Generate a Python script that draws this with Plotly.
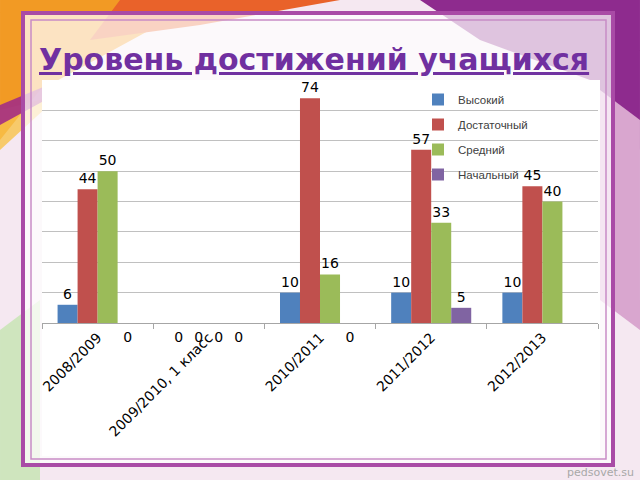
import plotly.graph_objects as go

categories = ["2008/2009", "2009/2010, 1 класс", "2010/2011", "2011/2012", "2012/2013"]
series_names = ["Высокий", "Достаточный", "Средний", "Начальный"]
vysokiy = [6, 0, 10, 10, 10]
dostatochny = [44, 0, 74, 57, 45]
sredniy = [50, 0, 16, 33, 40]
nachalny = [0, 0, 0, 5, None]
series_values = [vysokiy, dostatochny, sredniy, nachalny]
colors = ["#4F81BD", "#C0504D", "#9BBB59", "#8064A2"]
title_text = "Уровень достижений учащихся"

W, H = 640, 480
L, R, T, B = 42, 598, 80, 323


def px(x):
    return (x - L) / (R - L)


def py(y):
    return 1 - (y - T) / (B - T)


def path(points):
    return "M" + " L".join(f"{px(x):.4f},{py(y):.4f}" for x, y in points) + " Z"


fig = go.Figure()

for i, (name, vals, col) in enumerate(zip(series_names, series_values, colors)):
    fig.add_trace(go.Bar(
        name=name, x=categories, y=vals, marker_color=col,
        marker_line_width=0,
        text=[("" if (v is None or v == 0) else str(v)) for v in vals],
        textposition="outside", cliponaxis=False,
        textfont=dict(family="DejaVu Sans", size=14, color="#000000"),
        legendgroup=name, offsetgroup=str(i),
    ))

for i, (name, vals) in enumerate(zip(series_names, series_values)):
    fig.add_trace(go.Scatter(
        x=categories, y=[(0 if v == 0 else None) for v in vals],
        mode="markers+text", text=["0" if v == 0 else "" for v in vals],
        marker=dict(size=12, opacity=0),
        textposition="bottom center", cliponaxis=False,
        textfont=dict(family="DejaVu Sans", size=14, color="#000000"),
        showlegend=False, hoverinfo="skip", offsetgroup=str(i),
    ))


def pshape(**kw):
    d = dict(xref="paper", yref="paper", layer="below")
    d.update(kw)
    return d


shapes = [
    pshape(type="path", path=path([(0, 0), (330, 0), (150, 30), (40, 90), (0, 140)]),
           fillcolor="#F29A24", line=dict(width=0)),
    pshape(type="path", path=path([(120, 0), (340, 0), (200, 25), (90, 40)]),
           fillcolor="#E9622A", line=dict(width=0)),
    pshape(type="path", path=path([(0, 150), (60, 95), (0, 110)]),
           fillcolor="#F7C24A", line=dict(width=0), opacity=0.8),
    pshape(type="path", path=path([(0, 105), (60, 80), (60, 92), (0, 125)]),
           fillcolor="#A32E84", line=dict(width=0), opacity=0.9),
    pshape(type="path", path=path([(420, 0), (640, 0), (640, 150), (590, 80), (480, 40)]),
           fillcolor="#8E2B8E", line=dict(width=0)),
    pshape(type="path", path=path([(600, 90), (640, 120), (640, 330), (600, 300)]),
           fillcolor="#D9A6CF", line=dict(width=0)),
    pshape(type="path", path=path([(0, 330), (40, 300), (40, 480), (0, 480)]),
           fillcolor="#CFE5BE", line=dict(width=0)),
    # frame
    pshape(type="rect", x0=px(23), x1=px(613), y0=py(465), y1=py(13),
           fillcolor="rgba(255,255,255,0.72)", line=dict(color="#A94BA6", width=4)),
    pshape(type="rect", x0=px(31), x1=px(606), y0=py(459), y1=py(20),
           fillcolor="rgba(0,0,0,0)", line=dict(color="#C88CC6", width=1.5)),
    # chart box
    pshape(type="rect", x0=px(42), x1=px(600), y0=py(456), y1=py(80),
           fillcolor="#FFFFFF", line=dict(width=0)),
]

annotations = [
    dict(text=f"<u>{title_text}</u>", x=px(314), y=py(60), xref="paper", yref="paper",
         showarrow=False, xanchor="center", yanchor="middle",
         font=dict(family="DejaVu Sans", size=30, color="#7030A0", weight="bold")),
    dict(text="pedsovet.su", x=px(636), y=py(472), xref="paper", yref="paper",
         showarrow=False, xanchor="right", yanchor="middle",
         font=dict(family="DejaVu Sans", size=11, color="#A8A8A8")),
]

fig.update_layout(
    width=W, height=H,
    margin=dict(l=L, r=W - R, t=T, b=H - B, pad=0),
    paper_bgcolor="#F5E8F1", plot_bgcolor="#FFFFFF",
    barmode="group", bargap=0.28, bargroupgap=0,
    scattermode="group", scattergap=0.28,
    showlegend=True,
    legend=dict(x=px(418), y=py(85), xanchor="left", yanchor="top",
                bgcolor="rgba(0,0,0,0)", traceorder="grouped", tracegroupgap=6,
                font=dict(family="Liberation Sans", size=11.5, color="#404040"),
                itemclick=False),
    shapes=shapes, annotations=annotations,
    xaxis=dict(type="category", showgrid=False, showline=True, linecolor="#A6A6A6",
               linewidth=1, ticks="outside", tickson="boundaries", ticklen=5,
               tickcolor="#A6A6A6", tickangle=-45,
               tickfont=dict(family="DejaVu Sans", size=14, color="#000000")),
    yaxis=dict(range=[0, 80], dtick=10, showgrid=True, gridcolor="#C0C0C0", gridwidth=1,
               showticklabels=False, zeroline=False, showline=False, ticks=""),
)

fig.write_html("out.html")
